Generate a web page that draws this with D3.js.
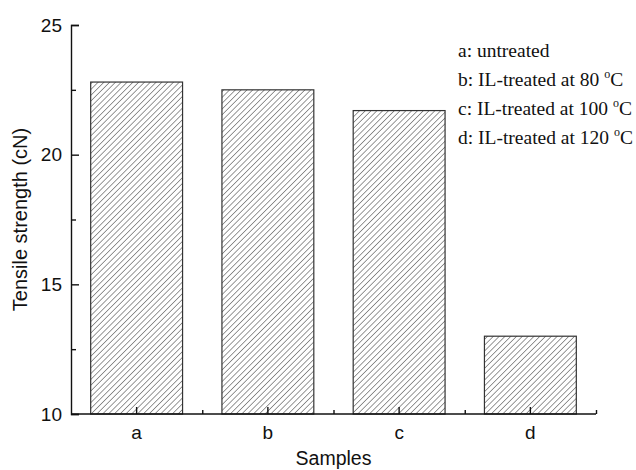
<!DOCTYPE html>
<html>
<head>
<meta charset="utf-8">
<script src="https://cdn.jsdelivr.net/npm/d3@7"></script>
<style>
  body { margin: 0; background: #fff; }
  svg { display: block; }
</style>
</head>
<body>
<svg id="chart" width="636" height="470"></svg>
<script>
// data
let samples = ["a", "b", "c", "d"];
let strength = [22.8, 22.5, 21.7, 13.0];
let yTicks = [10, 15, 20, 25];
let yMinorTicks = [12.5, 17.5, 22.5];
let legendLabels = [
  "a: untreated",
  "b: IL-treated at 80",
  "c: IL-treated at 100",
  "d: IL-treated at 120"
];
let legendUnit = ["", "C", "C", "C"];

let svg = d3.select("#chart");

let plotLeft = 71, plotRight = 596, plotTop = 25, plotBottom = 414;

let x = d3.scaleBand()
  .domain(samples)
  .range([plotLeft, plotRight])
  .paddingInner(0.3)
  .paddingOuter(0.15);

// used for the small ticks between the bars
let xEdge = d3.scaleLinear().domain([0, samples.length]).range([plotLeft, plotRight]);

let y = d3.scaleLinear().domain([10, 25]).range([plotBottom, plotTop]);

// hatch pattern
let defs = svg.append("defs");
let pattern = defs.append("pattern")
  .attr("id", "hatch")
  .attr("patternUnits", "userSpaceOnUse")
  .attr("width", 4.1)
  .attr("height", 4.1)
  .attr("patternTransform", "rotate(45)");
pattern.append("line")
  .attr("x1", 0).attr("y1", 0)
  .attr("x2", 0).attr("y2", 4.1)
  .attr("stroke", "#444")
  .attr("stroke-width", 1.1);

// bars
svg.append("g")
  .selectAll("rect")
  .data(samples)
  .enter()
  .append("rect")
  .attr("x", (d) => x(d))
  .attr("y", (d, i) => y(strength[i]))
  .attr("width", x.bandwidth())
  .attr("height", (d, i) => y(10) - y(strength[i]))
  .attr("fill", "url(#hatch)")
  .attr("stroke", "#333")
  .attr("stroke-width", 1.2);

// y axis (ticks point inwards)
let yAxis = svg.append("g")
  .attr("transform", "translate(" + plotLeft + ",0)")
  .call(d3.axisLeft(y).tickValues(yTicks).tickSize(-8).tickPadding(9).tickFormat(d3.format("d")));
yAxis.selectAll("text")
  .attr("font-family", "'Liberation Sans', Arial, sans-serif")
  .attr("font-size", 19)
  .attr("fill", "#111");

svg.append("g")
  .attr("transform", "translate(" + plotLeft + ",0)")
  .call(d3.axisLeft(y).tickValues(yMinorTicks).tickSize(-5).tickFormat(""))
  .call((g) => g.select(".domain").remove());

// x axis
let xAxis = svg.append("g")
  .attr("transform", "translate(0," + plotBottom + ")")
  .call(d3.axisBottom(x).tickSize(-7).tickPadding(11.5).tickSizeOuter(0));
xAxis.selectAll("text")
  .attr("font-family", "'Liberation Sans', Arial, sans-serif")
  .attr("font-size", 19)
  .attr("fill", "#111");
xAxis.select(".domain").attr("d", "M" + plotLeft + ",0H" + plotRight);

svg.append("g")
  .attr("transform", "translate(0," + plotBottom + ")")
  .call(d3.axisBottom(xEdge).tickValues([1, 2, 3, 4]).tickSize(-4).tickFormat(""))
  .call((g) => g.select(".domain").remove());

svg.selectAll(".domain, .tick line")
  .attr("stroke", "#111")
  .attr("stroke-width", 1.4);

// axis titles
svg.append("text")
  .attr("x", (plotLeft + plotRight) / 2)
  .attr("y", 465)
  .attr("text-anchor", "middle")
  .attr("font-family", "'Liberation Sans', Arial, sans-serif")
  .attr("font-size", 19.5)
  .attr("fill", "#111")
  .text("Samples");

svg.append("text")
  .attr("transform", "translate(27," + (plotTop + plotBottom) / 2 + ") rotate(-90)")
  .attr("text-anchor", "middle")
  .attr("font-family", "'Liberation Sans', Arial, sans-serif")
  .attr("font-size", 20)
  .attr("fill", "#111")
  .text("Tensile strength (cN)");

// legend text
let legend = svg.append("g")
  .attr("font-family", "'Liberation Serif', 'Times New Roman', serif")
  .attr("font-size", 19.5)
  .attr("fill", "#111");

legendLabels.forEach((label, i) => {
  let t = legend.append("text")
    .attr("x", 458)
    .attr("y", 57 + i * 29)
    .text(label);
  if (legendUnit[i]) {
    t.append("tspan")
      .attr("dx", 5)
      .attr("dy", -8)
      .attr("font-size", 12)
      .text("o");
    t.append("tspan")
      .attr("dy", 8)
      .text(legendUnit[i]);
  }
});
</script>
</body>
</html>
